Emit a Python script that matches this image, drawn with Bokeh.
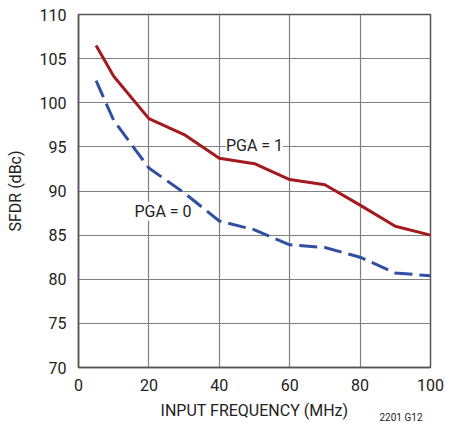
from bokeh.plotting import figure
from bokeh.models import Range1d, FixedTicker, Label
from bokeh.embed import file_html
from bokeh.resources import INLINE

freq = [5, 10, 20, 30, 40, 50, 60, 70, 80, 90, 100]
pga1 = [106.5, 103.0, 98.2, 96.4, 93.7, 93.1, 91.3, 90.7, 88.4, 86.0, 85.0]
pga0 = [102.5, 98.0, 92.6, 89.8, 86.6, 85.6, 83.9, 83.6, 82.5, 80.7, 80.4]
x_ticks = [0, 20, 40, 60, 80, 100]
y_ticks = [70, 75, 80, 85, 90, 95, 100, 105, 110]

FONT = "Roboto"

p = figure(width=452, height=424, output_backend="svg", toolbar_location=None,
           x_range=Range1d(0, 100), y_range=Range1d(70, 110),
           min_border_left=78, min_border_right=22, min_border_top=14, min_border_bottom=57)

p.line(freq, pga1, line_color="#A3191E", line_width=3)
p.line(freq, pga0, line_color="#2F4FA2", line_width=3, line_dash="18 7")

p.xaxis.ticker = FixedTicker(ticks=x_ticks)
p.yaxis.ticker = FixedTicker(ticks=y_ticks)
for ax in (p.xaxis[0], p.yaxis[0]):
    ax.major_tick_line_color = None
    ax.minor_tick_line_color = None
    ax.axis_line_color = "#555555"
    ax.axis_line_width = 1.5
    ax.major_label_text_font = FONT
    ax.major_label_text_font_size = "16px"
    ax.major_label_text_color = "#222222"
    ax.axis_label_text_font = FONT
    ax.axis_label_text_font_size = "16px"
    ax.axis_label_text_font_style = "normal"
    ax.axis_label_text_color = "#222222"
p.xaxis.axis_label = "INPUT FREQUENCY (MHz)"
p.yaxis.axis_label = "SFDR (dBc)"
p.xaxis.major_label_standoff = 5
p.yaxis.major_label_standoff = 6
p.xaxis.axis_label_standoff = 7
p.yaxis.axis_label_standoff = 12

p.xgrid.ticker = FixedTicker(ticks=x_ticks)
p.ygrid.ticker = FixedTicker(ticks=y_ticks)
p.grid.grid_line_color = "#808080"
p.grid.grid_line_width = 1.2
p.outline_line_color = "#555555"
p.outline_line_width = 1.5

p.add_layout(Label(x=50, y=95.2, text="PGA = 1", text_align="center", text_baseline="middle",
                   text_font=FONT, text_font_size="16px", text_color="#222222",
                   background_fill_color="white"))
p.add_layout(Label(x=24, y=87.7, text="PGA = 0", text_align="center", text_baseline="middle",
                   text_font=FONT, text_font_size="16px", text_color="#222222",
                   background_fill_color="white"))
p.add_layout(Label(x=301, y=-403, x_units="screen", y_units="screen", text="2201 G12",
                   text_baseline="middle",
                   text_font=FONT, text_font_size="10px", text_color="#222222"), "above")

open("out.html", "w").write(file_html(p, INLINE))
